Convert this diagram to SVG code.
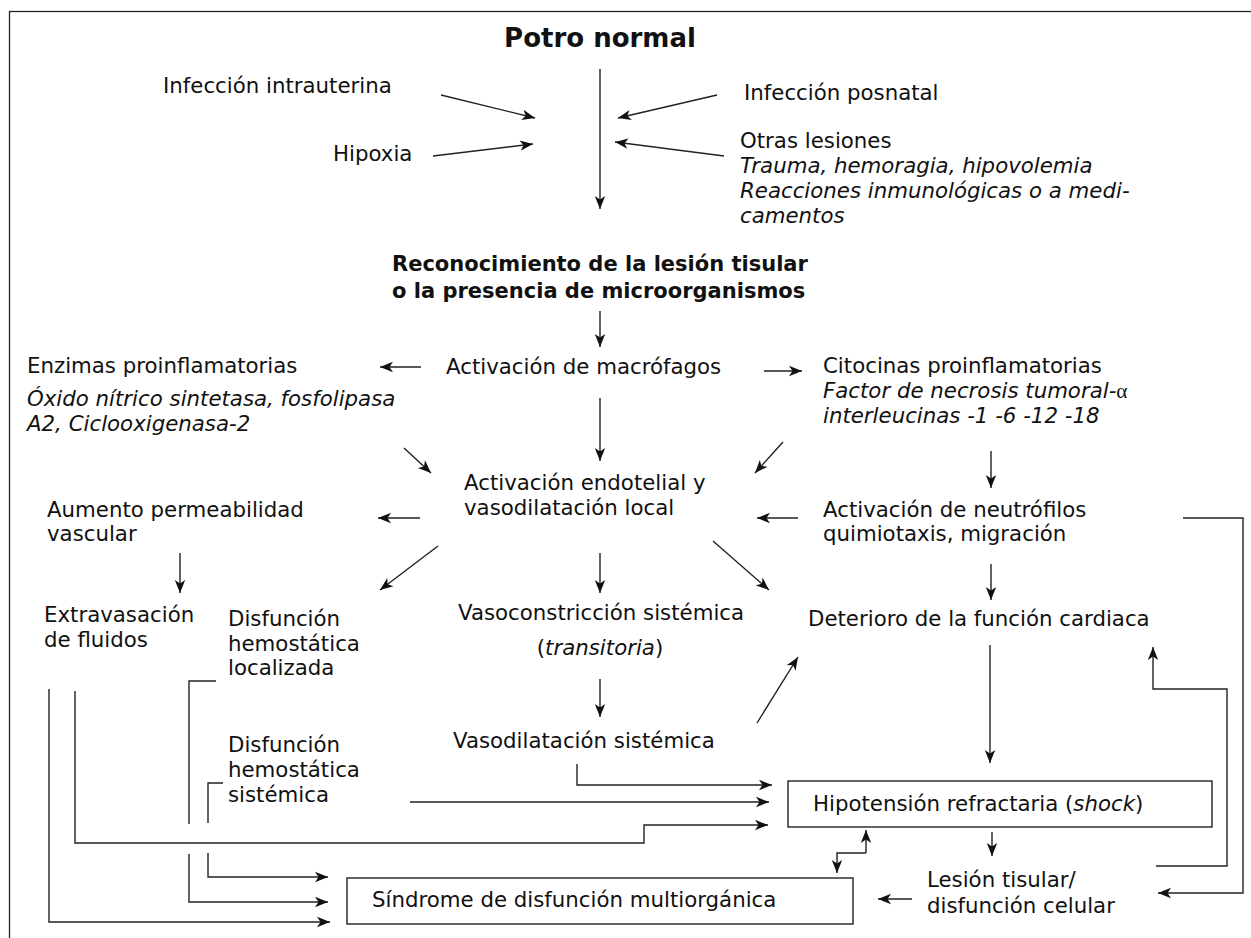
<svg xmlns="http://www.w3.org/2000/svg" width="1251" height="938" viewBox="0 0 1251 938">
<defs>
<marker id="ah" markerUnits="userSpaceOnUse" markerWidth="15" markerHeight="12" refX="13" refY="6" orient="auto">
<path d="M0,0.8 L13,6 L0,11.2 L3.5,6 Z" fill="#111"/>
</marker>
<style>
text{font-family:"DejaVu Sans",Verdana,sans-serif;font-size:21.3px;fill:#111}
.b{font-weight:bold;font-size:21px}
.i{font-style:italic}
.c{fill:none;stroke:#222;stroke-width:1.4}
.a{marker-end:url(#ah)}
.box{fill:#fff;stroke:#222;stroke-width:1.4}
.g{font-family:"Liberation Serif",serif;font-style:normal}
</style>
</defs>
<rect id="frame" x="9.5" y="11.5" width="1260" height="940" fill="none" stroke="#222" stroke-width="1.3"/>
<g id="connectors">
<path class="c a" d="M600,69 V209"/>
<path class="c a" d="M441,95 L535,118"/>
<path class="c a" d="M433,156 L533,144"/>
<path class="c a" d="M717,95 L618,118"/>
<path class="c a" d="M724,156 L615,142"/>
<path class="c a" d="M600,311 V347"/>
<path class="c a" d="M421,367 H380"/>
<path class="c a" d="M764,371 H802"/>
<path class="c a" d="M600,398 V461"/>
<path class="c a" d="M404,448 L431,473"/>
<path class="c a" d="M783,442 L755,473"/>
<path class="c a" d="M420,518 H378"/>
<path class="c a" d="M798,518 H757"/>
<path class="c a" d="M991,451 V488"/>
<path class="c a" d="M438,546 L380,590"/>
<path class="c a" d="M600,553 V593"/>
<path class="c a" d="M713,541 L769,590"/>
<path class="c a" d="M180,553 V593"/>
<path class="c a" d="M991,564 V600"/>
<path class="c a" d="M600,679 V717"/>
<path class="c a" d="M757,723 L798,657"/>
<path class="c a" d="M990,645 V763"/>
<path class="c a" d="M1183,518 H1243 V893 H1158"/>
<path class="c a" d="M1156,866 H1227 V689 H1153 V647"/>
<path class="c a" d="M577,764 V785 H772"/>
<path class="c a" d="M410,802 H769"/>
<path class="c a" d="M75,691 V843 H644 V825 H768"/>
<path class="c" d="M216,681 H189 V824"/>
<path class="c a" d="M189,854 V902 H328"/>
<path class="c" d="M223,783 H208 V823"/>
<path class="c a" d="M208,853 V877 H328"/>
<path class="c a" d="M49,689 V922 H330"/>
<path class="c a" d="M866,853 V830"/>
<path class="c a" d="M866,853 H837 V873"/>
<path class="c a" d="M992,832 V856"/>
<path class="c a" d="M912,899 H878"/>
</g>
<g id="potro"><text class="b" x="600" y="47" text-anchor="middle" style="font-size:26px">Potro normal</text></g>
<g id="inf-intrauterina"><text x="163" y="93">Infección intrauterina</text></g>
<g id="hipoxia"><text x="333" y="161">Hipoxia</text></g>
<g id="inf-posnatal"><text x="744" y="100">Infección posnatal</text></g>
<g id="otras-lesiones">
<text x="740" y="148">Otras lesiones</text>
<text class="i" x="740" y="173">Trauma, hemoragia, hipovolemia</text>
<text class="i" x="740" y="198">Reacciones inmunológicas o a medi-</text>
<text class="i" x="740" y="223">camentos</text>
</g>
<g id="reconocimiento">
<text class="b" x="392" y="271">Reconocimiento de la lesión tisular</text>
<text class="b" x="392" y="298">o la presencia de microorganismos</text>
</g>
<g id="enzimas">
<text x="27" y="373">Enzimas proinflamatorias</text>
<text class="i" x="27" y="406">Óxido nítrico sintetasa, fosfolipasa</text>
<text class="i" x="27" y="431">A2, Ciclooxigenasa-2</text>
</g>
<g id="macrofagos"><text x="446" y="374">Activación de macrófagos</text></g>
<g id="citocinas">
<text x="823" y="373">Citocinas proinflamatorias</text>
<text class="i" x="823" y="398">Factor de necrosis tumoral-<tspan class="g">α</tspan></text>
<text class="i" x="823" y="423">interleucinas -1 -6 -12 -18</text>
</g>
<g id="endotelial">
<text x="464" y="490">Activación endotelial y</text>
<text x="464" y="515">vasodilatación local</text>
</g>
<g id="permeabilidad">
<text x="47" y="517">Aumento permeabilidad</text>
<text x="47" y="541">vascular</text>
</g>
<g id="neutrofilos">
<text x="823" y="517">Activación de neutrófilos</text>
<text x="823" y="541">quimiotaxis, migración</text>
</g>
<g id="extravasacion">
<text x="44" y="622">Extravasación</text>
<text x="44" y="647">de fluidos</text>
</g>
<g id="disf-localizada">
<text x="228" y="626">Disfunción</text>
<text x="228" y="651">hemostática</text>
<text x="228" y="675">localizada</text>
</g>
<g id="vasoconstriccion">
<text x="458" y="620">Vasoconstricción sistémica</text>
<text x="600" y="655" text-anchor="middle">(<tspan class="i">transitoria</tspan>)</text>
</g>
<g id="deterioro"><text x="808" y="626">Deterioro de la función cardiaca</text></g>
<g id="vasodilatacion"><text x="453" y="748">Vasodilatación sistémica</text></g>
<g id="disf-sistemica">
<text x="228" y="752">Disfunción</text>
<text x="228" y="777">hemostática</text>
<text x="228" y="802">sistémica</text>
</g>
<g id="hipotension">
<rect class="box" x="788" y="781" width="424" height="46"/>
<text x="813" y="811">Hipotensión refractaria (<tspan class="i">shock</tspan>)</text>
</g>
<g id="lesion">
<text x="927" y="887">Lesión tisular/</text>
<text x="927" y="913">disfunción celular</text>
</g>
<g id="sindrome">
<rect class="box" x="347" y="878" width="506" height="46"/>
<text x="372" y="907">Síndrome de disfunción multiorgánica</text>
</g>
</svg>
